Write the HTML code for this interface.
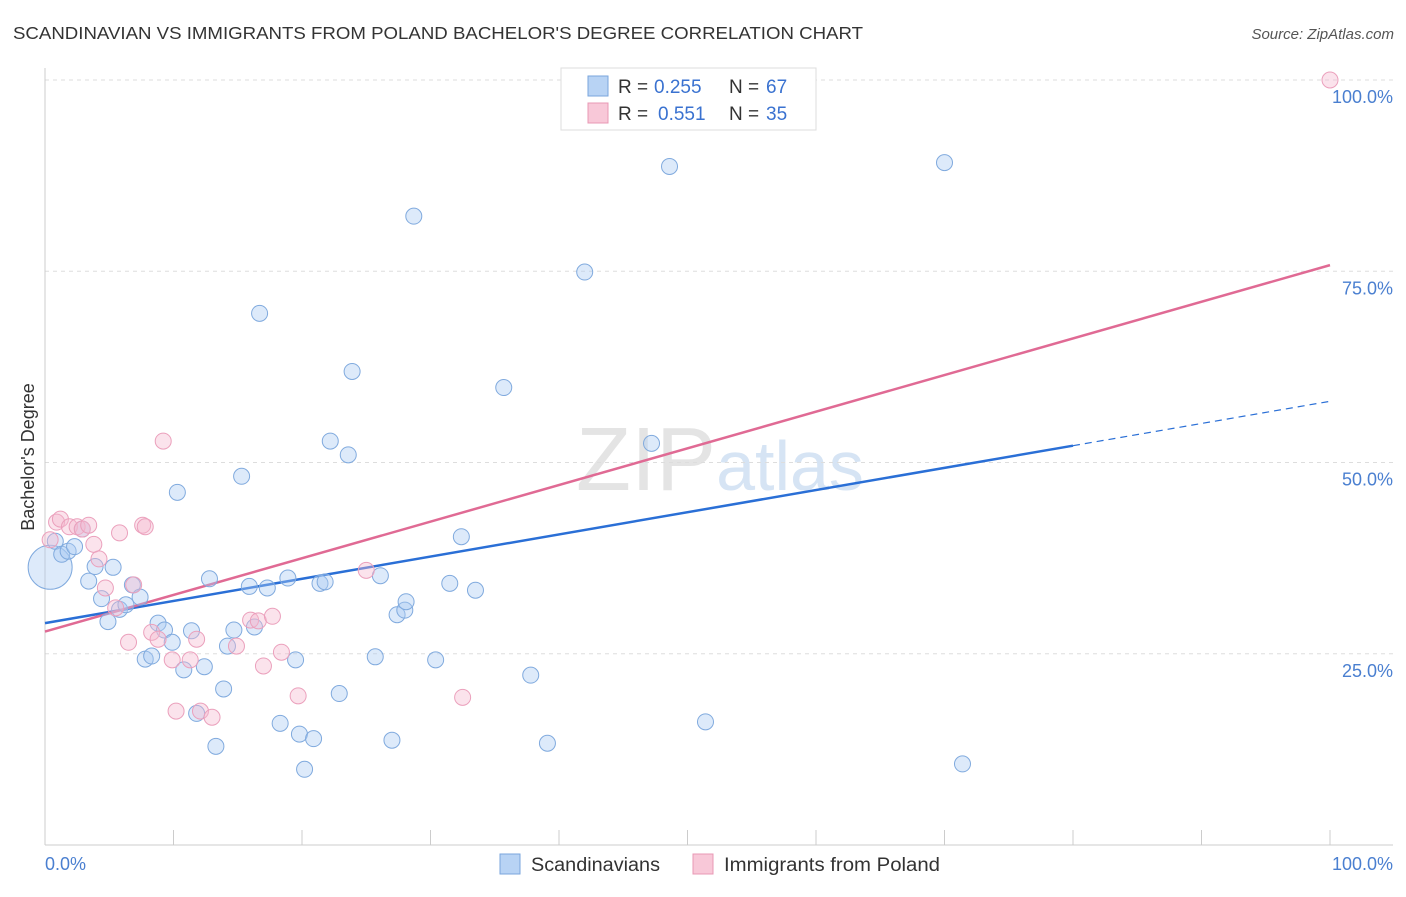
<!DOCTYPE html>
<html><head><meta charset="utf-8">
<style>
body{margin:0;background:#fff;font-family:"Liberation Sans",sans-serif;}
svg text{font-family:"Liberation Sans",sans-serif;}
</style></head>
<body>
<svg id="chart" width="1406" height="892" viewBox="0 0 1406 892" xmlns="http://www.w3.org/2000/svg">
<text x="13" y="39" font-size="17.5" fill="#333" textLength="850" lengthAdjust="spacingAndGlyphs">SCANDINAVIAN VS IMMIGRANTS FROM POLAND BACHELOR'S DEGREE CORRELATION CHART</text>
<text x="1394" y="39" font-size="15" fill="#555" text-anchor="end" font-style="italic">Source: ZipAtlas.com</text>
<text x="720" y="490" font-size="90" fill="#e4e4e4" text-anchor="middle" font-family="Liberation Serif">ZIP<tspan fill="#d6e4f4" font-family="Liberation Sans" font-size="70">atlas</tspan></text>
<g id="grid"></g>
<g id="axes"></g>
<g id="trends"></g>
<g id="points"></g>
<text transform="translate(34,457) rotate(-90)" font-size="18" fill="#333" text-anchor="middle">Bachelor's Degree</text>
<text x="45" y="870" font-size="18" fill="#4a7fd0">0.0%</text>
<text x="1393" y="870" font-size="18" fill="#4a7fd0" text-anchor="end">100.0%</text>
<g>
<rect x="561" y="68" width="255" height="62" fill="#fff" stroke="#ddd"/>
<rect x="588" y="76" width="20" height="20" fill="#b8d3f4" stroke="#7aa6dc"/>
<rect x="588" y="103" width="20" height="20" fill="#f8c8d8" stroke="#e898b4"/>
<text x="618" y="93" font-size="19" fill="#333">R =</text>
<text x="654" y="93" font-size="19" fill="#3a72d0">0.255</text>
<text x="729" y="93" font-size="19" fill="#333">N =</text>
<text x="766" y="93" font-size="19" fill="#3a72d0">67</text>
<text x="618" y="120" font-size="19" fill="#333">R =</text>
<text x="658" y="120" font-size="19" fill="#3a72d0">0.551</text>
<text x="729" y="120" font-size="19" fill="#333">N =</text>
<text x="766" y="120" font-size="19" fill="#3a72d0">35</text>
</g>
<g>
<rect x="500" y="854" width="20" height="20" fill="#b8d3f4" stroke="#7aa6dc"/>
<text x="531" y="871" font-size="19" fill="#333" textLength="129" lengthAdjust="spacingAndGlyphs">Scandinavians</text>
<rect x="693" y="854" width="20" height="20" fill="#f8c8d8" stroke="#e898b4"/>
<text x="724" y="871" font-size="19" fill="#333" textLength="216" lengthAdjust="spacingAndGlyphs">Immigrants from Poland</text>
</g>
</svg>
<script>
const yTicks=[25,50,75,100];
const yTickLabels=["25.0%","50.0%","75.0%","100.0%"];
const xTicks=[0,10,20,30,40,50,60,70,80,90,100];
const blueX=[0.4,0.8,1.3,1.8,2.9,2.3,3.4,3.9,4.4,4.9,5.3,5.8,6.3,6.8,7.4,7.8,8.3,8.8,9.3,9.9,10.3,10.8,11.4,11.8,12.4,12.8,13.3,13.9,14.2,14.7,15.3,15.9,16.3,16.7,17.3,18.3,18.9,19.5,19.8,20.2,20.9,21.4,21.8,22.2,22.9,23.6,23.9,25.7,26.1,27.0,27.4,28.0,28.1,28.7,30.4,31.5,32.4,33.5,35.7,37.8,39.1,42.0,47.2,48.6,51.4,70.0,71.4];
const blueY=[36.3,39.7,38.0,38.4,41.3,39.0,34.5,36.4,32.2,29.2,36.3,30.8,31.4,34.0,32.4,24.3,24.7,29.0,28.1,26.5,46.1,22.9,28.0,17.2,23.3,34.8,12.9,20.4,26.0,28.1,48.2,33.8,28.5,69.5,33.6,15.9,34.9,24.2,14.5,9.9,13.9,34.2,34.4,52.8,19.8,51.0,61.9,24.6,35.2,13.7,30.1,30.7,31.8,82.2,24.2,34.2,40.3,33.3,59.8,22.2,13.3,74.9,52.5,88.7,16.1,89.2,10.6];
const pinkX=[0.4,0.9,1.2,1.9,2.5,2.9,3.4,3.8,4.2,4.7,5.5,5.8,6.5,6.9,7.6,7.8,8.3,8.8,9.2,9.9,10.2,11.3,11.8,12.1,13.0,14.9,16.0,16.6,17.0,17.7,18.4,19.7,25.0,32.5,100];
const pinkY=[39.9,42.2,42.6,41.6,41.6,41.3,41.8,39.3,37.4,33.6,31.0,40.8,26.5,34.0,41.8,41.6,27.8,26.9,52.8,24.2,17.5,24.2,26.9,17.5,16.7,26.0,29.4,29.3,23.4,29.9,25.2,19.5,35.9,19.3,100];
const blueTrendX=[0,80,100];
const blueTrendY=[29.0,52.2,58.0];
const pinkTrendX=[0,100];
const pinkTrendY=[27.9,75.8];

const NS="http://www.w3.org/2000/svg";
const X=v=>45+v*12.85;
const Y=v=>845-v*7.65;
function mk(tag,attrs,parent){const e=document.createElementNS(NS,tag);for(const k in attrs)e.setAttribute(k,attrs[k]);parent.appendChild(e);return e;}
const grid=document.getElementById('grid'),axes=document.getElementById('axes'),trends=document.getElementById('trends'),pts=document.getElementById('points');
yTicks.forEach((t,i)=>{
  const l=mk('line',{x1:45,x2:1393,y1:Y(t),y2:Y(t),stroke:'#ddd','stroke-dasharray':'4,4'},grid);
  
  
  const tx=mk('text',{x:1393,y:Y(t)+23,'font-size':18,fill:'#4a7fd0','text-anchor':'end'},grid);
  tx.textContent=yTickLabels[i];
  
  
});
const xa=mk('line',{x1:45,x2:1393,y1:845,y2:845,stroke:'#ccc'},axes);


const ya=mk('line',{x1:45,x2:45,y1:68,y2:845,stroke:'#ccc'},axes);


xTicks.forEach(t=>{
  const l=mk('line',{x1:X(t),x2:X(t),y1:830,y2:845,stroke:'#ccc'},axes);
  
  
});
function drawPts(xs,ys,fill,stroke,name){
  xs.forEach((v,i)=>{
    const c=mk('circle',{cx:X(v),cy:Y(ys[i]),r:(name==='scandinavian-point'&&i===0)?22:8,fill:fill,stroke:stroke,'stroke-width':1},pts);
    
    
  });
}
drawPts(blueX,blueY,'rgba(170,202,242,0.4)','#80aade','scandinavian-point');
drawPts(pinkX,pinkY,'rgba(246,186,208,0.4)','#eba0bc','poland-point');
const b1=mk('line',{x1:X(blueTrendX[0]),y1:Y(blueTrendY[0]),x2:X(blueTrendX[1]),y2:Y(blueTrendY[1]),stroke:'#2a6fd6','stroke-width':2.5},trends);


const b2=mk('line',{x1:X(blueTrendX[1]),y1:Y(blueTrendY[1]),x2:X(blueTrendX[2]),y2:Y(blueTrendY[2]),stroke:'#2a6fd6','stroke-width':1.2,'stroke-dasharray':'7,5'},trends);


const p1=mk('line',{x1:X(pinkTrendX[0]),y1:Y(pinkTrendY[0]),x2:X(pinkTrendX[1]),y2:Y(pinkTrendY[1]),stroke:'#e06a94','stroke-width':2.5},trends);


</script>
</body></html>
